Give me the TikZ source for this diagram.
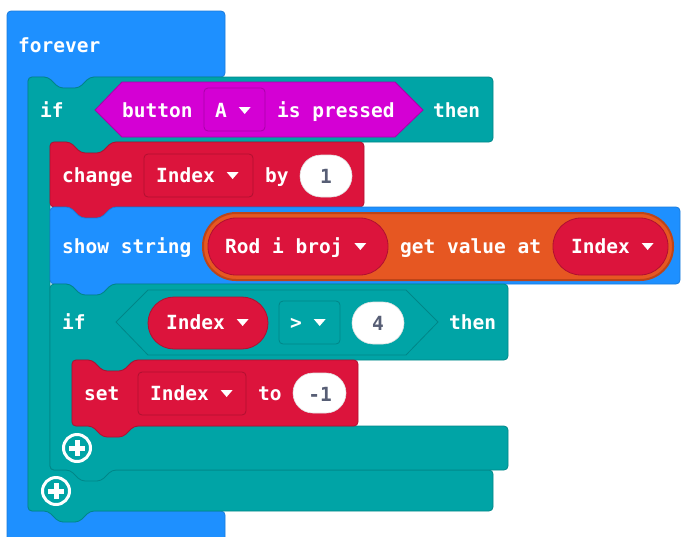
\documentclass[tikz,border=0pt]{standalone}
\usepackage{fontspec}
\usepackage{tikz}
\newfontfamily\blockmono{DejaVu Sans Mono}
\definecolor{loopblue}{HTML}{1E90FF}
\definecolor{loopblueD}{HTML}{1A7BDB}
\definecolor{logicteal}{HTML}{00A4A6}
\definecolor{logictealD}{HTML}{008688}
\definecolor{inputmag}{HTML}{D400D4}
\definecolor{inputmagD}{HTML}{A800A8}
\definecolor{varred}{HTML}{DC143C}
\definecolor{varredD}{HTML}{B01030}
\definecolor{arrorange}{HTML}{E65722}
\definecolor{arrorangeD}{HTML}{BD4418}
\definecolor{numgray}{HTML}{575E75}
\newcommand{\blk}{\blockmono\bfseries\fontsize{19.5}{22}\selectfont}
\newcommand{\dd}{\tikz[baseline=0pt]\fill[white] (0pt,10pt) -- (12pt,10pt) -- (6pt,3pt) -- cycle;}

\begin{document}
\begin{tikzpicture}[x=1pt,y=-1pt,
  notchR/.style 2 args={insert path={-- (#1,#2) -- ++(11,11) -- ++(20,0) -- ++(11,-11)}},
  notchL/.style 2 args={insert path={-- ({#1+42},#2) -- ++(-11,11) -- ++(-20,0) -- ++(-11,-11)}},
  block/.style={rounded corners=4pt,line width=0.8pt},
  lbl/.style={font=\blk,text=white,inner sep=0pt,anchor=base west},
  num/.style={font=\blk,text=numgray,inner sep=0pt,anchor=base},
  field/.style={rounded corners=4pt,line width=0.8pt},
  oval/.style={fill=white,draw=black!12,line width=0.6pt},
  plusbtn/.pic={\draw[white,line width=3pt] (0,0) circle (13.5pt);
    \draw[white,line width=5pt] (-8,0) -- (8,0) (0,-8) -- (0,8);}]
  \useasboundingbox (0,0) rectangle (682,536);

  \filldraw[block,fill=loopblue,draw=loopblueD] (7,550) -- (7,11) -- (225,11) -- (225,77)
    [notchL={48}{77}] -- (28,77) -- (28,511) -- (225,511) -- (225,550);
  \filldraw[block,fill=logicteal,draw=logictealD] (28,77) [notchR={48}{77}] -- (493,77) -- (493,142)
    [notchL={70}{142}] -- (50,142) -- (50,470) -- (493,470) -- (493,511) [notchL={48}{511}] -- (28,511) -- cycle;
  \filldraw[block,fill=varred,draw=varredD] (50,142) [notchR={70}{142}] -- (364,142) -- (364,207)
    [notchL={70}{207}] -- (50,207) -- cycle;
  \filldraw[block,fill=loopblue,draw=loopblueD] (50,207) [notchR={70}{207}] -- (680,207) -- (680,284)
    [notchL={70}{284}] -- (50,284) -- cycle;
  \filldraw[block,fill=logicteal,draw=logictealD] (50,284) [notchR={70}{284}] -- (508,284) -- (508,360)
    [notchL={92}{360}] -- (72,360) -- (72,426) -- (508,426) -- (508,470) [notchL={70}{470}] -- (50,470) -- cycle;
  \filldraw[block,fill=varred,draw=varredD] (72,360) [notchR={92}{360}] -- (358,360) -- (358,426)
    [notchL={92}{426}] -- (72,426) -- cycle;

  \node[lbl] (forever) at (18,52) {forever};

  \node[lbl] (ifA) at (40,117) {if};
  \filldraw[fill=inputmag,draw=inputmagD,line width=0.8pt] (95,110) -- (122,82) -- (395,82) -- (423,110)
    -- (395,137) -- (122,137) -- cycle;
  \filldraw[field,fill=inputmag,draw=inputmagD] (204,88) rectangle (265,131);
  \node[lbl] (button) at (122,117) {button};
  \node[lbl] (btnA) at (215,117) {A \dd};
  \node[lbl] (pressed) at (277,117) {is pressed};
  \node[lbl] (thenA) at (433,117) {then};

  \node[lbl] (change) at (62,182) {change};
  \filldraw[field,fill=varred,draw=varredD] (144,154) rectangle (253,197);
  \node[lbl] (idxA) at (156,182) {Index \dd};
  \node[lbl] (by) at (265,182) {by};
  \filldraw[oval,rounded corners=21pt] (300,155) rectangle (352,197);
  \node[num] (one) at (326,183) {1};

  \node[lbl] (show) at (62,253) {show string};
  \filldraw[fill=arrorange,draw=arrorangeD,line width=2pt,rounded corners=33pt] (203,213) rectangle (673,280);
  \filldraw[fill=varred,draw=varredD,line width=0.8pt,rounded corners=28pt] (208,218) rectangle (388,275);
  \node[lbl] (list) at (225,253) {Rod i broj \dd};
  \node[lbl] (getval) at (400,253) {get value at};
  \filldraw[fill=varred,draw=varredD,line width=0.8pt,rounded corners=28pt] (553,218) rectangle (668,275);
  \node[lbl] (idxB) at (571,253) {Index \dd};

  \node[lbl] (ifB) at (62,329) {if};
  \draw[logictealD,line width=0.8pt] (116,322) -- (148,290) -- (406,290) -- (438,322) -- (406,355)
    -- (148,355) -- cycle;
  \filldraw[fill=varred,draw=varredD,line width=0.8pt,rounded corners=26pt] (148,297) rectangle (268,349);
  \node[lbl] (idxC) at (166,329) {Index \dd};
  \filldraw[field,fill=logicteal,draw=logictealD] (279,301) rectangle (340,344);
  \node[lbl] (gt) at (290,329) {> \dd};
  \filldraw[oval,rounded corners=21pt] (352,302) rectangle (404,344);
  \node[num] (four) at (378,330) {4};
  \node[lbl] (thenB) at (449,329) {then};

  \node[lbl] (set) at (84,400) {set};
  \filldraw[field,fill=varred,draw=varredD] (138,372) rectangle (246,415);
  \node[lbl] (idxD) at (150,400) {Index \dd};
  \node[lbl] (to) at (258,400) {to};
  \filldraw[oval,rounded corners=20pt] (293,373) rectangle (346,413);
  \node[num] (minus) at (320,401) {-1};

  \pic at (77,448) {plusbtn};
  \pic at (56,491) {plusbtn};
\end{tikzpicture}
\end{document}
